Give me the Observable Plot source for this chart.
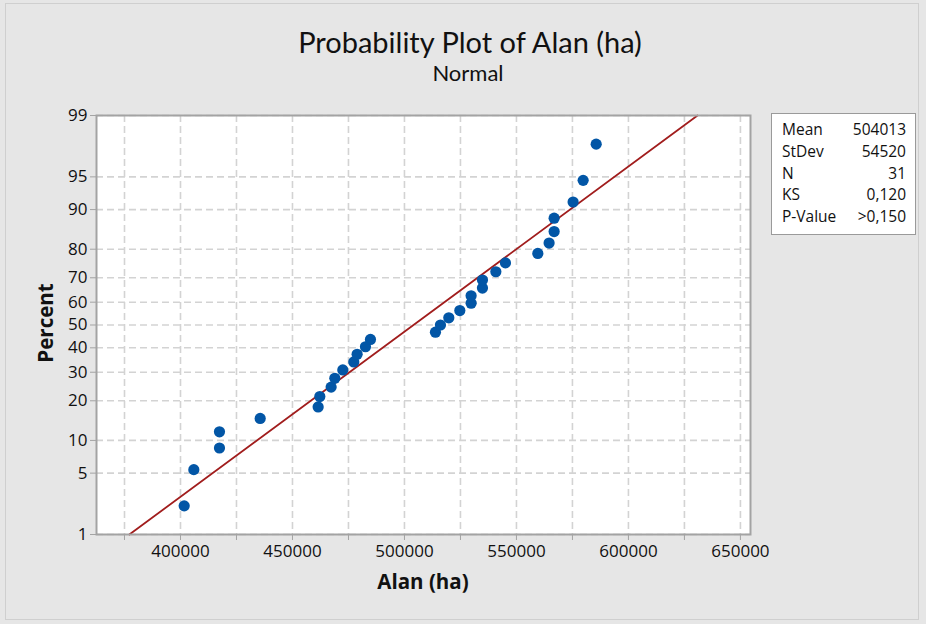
<!DOCTYPE html>
<html>
<head>
<meta charset="utf-8">
<script src="https://cdn.jsdelivr.net/npm/d3@7"></script>
<script src="https://cdn.jsdelivr.net/npm/@observablehq/plot@0.6"></script>
<style>
  html, body { margin: 0; padding: 0; background: #e6e6e6; }
  #wrap { position: relative; width: 926px; height: 624px; background: #e6e6e6; font-family: "Open Sans", Lato, sans-serif; color: #111; overflow: hidden; }
  #outer { position: absolute; left: 5px; top: 3px; width: 914px; height: 617px; border: 1px solid #cfcfcf; box-sizing: border-box; }
  #chart { position: absolute; left: 0; top: 0; }
  .abs { position: absolute; white-space: nowrap; }
  #title { left: 0; width: 940px; top: 24px; text-align: center; font-size: 29px; font-family: Lato, sans-serif; }
  #subtitle { left: 0; width: 936px; top: 59px; text-align: center; font-size: 22px; font-family: Lato, sans-serif; }
  #xlabel { left: 96px; width: 654px; top: 567px; text-align: center; font-size: 20.5px; font-weight: bold; }
  #ylabel { left: 45px; top: 323px; transform: translate(-50%, -50%) rotate(-90deg); font-size: 20.5px; font-weight: bold; }
  #stats { left: 771px; top: 113px; width: 145px; height: 122px; background: #fff; border: 1.5px solid #9a9a9a; box-sizing: border-box; font-size: 15.5px; padding: 5px 9px 0 10px; }
  #stats .row { display: flex; justify-content: space-between; height: 21.8px; line-height: 21.8px; }
</style>
</head>
<body>
<div id="wrap">
  <div id="outer"></div>
  <div id="chart"></div>
  <div class="abs" id="title">Probability Plot of Alan (ha)</div>
  <div class="abs" id="subtitle">Normal</div>
  <div class="abs" id="xlabel">Alan (ha)</div>
  <div class="abs" id="ylabel">Percent</div>
  <div class="abs" id="stats"></div>
</div>
<script>
// ---- data ----
const alan = [401650, 405950, 417400, 417400, 435580, 461460, 462200, 467260, 468900, 472470,
              477380, 478870, 482590, 484820, 513840, 516070, 519800, 524720, 529760, 529760,
              534820, 534820, 540800, 545090, 559540, 564580, 566820, 566820, 575300, 579780, 585600];
const percent = [2.23, 5.41, 8.60, 11.78, 14.97, 18.15, 21.34, 24.52, 27.71, 30.89,
                 34.08, 37.26, 40.45, 43.63, 46.82, 50.00, 53.18, 56.37, 59.55, 62.74,
                 65.92, 69.11, 72.29, 75.48, 78.66, 81.85, 85.03, 88.22, 91.40, 94.59, 97.77];
const fitMean = 504013;
const fitStDev = 54520;
const fitPercent = [1, 99];
const percentTicks = [1, 5, 10, 20, 30, 40, 50, 60, 70, 80, 90, 95, 99];
const xTicks = [375000, 400000, 425000, 450000, 475000, 500000, 525000, 550000, 575000, 600000, 625000, 650000];
const xLabelTicks = [400000, 450000, 500000, 550000, 600000, 650000];
const statLabels = ["Mean", "StDev", "N", "KS", "P-Value"];
const statValues = ["504013", "54520", "31", "0,120", ">0,150"];

// inverse standard normal CDF (Acklam)
function normInv(p) {
  const a = [-3.969683028665376e+01, 2.209460984245205e+02, -2.759285104469687e+02, 1.383577518672690e+02, -3.066479806614716e+01, 2.506628277459239e+00];
  const b = [-5.447609879822406e+01, 1.615858368580409e+02, -1.556989798598866e+02, 6.680131188771972e+01, -1.328068155288572e+01];
  const c = [-7.784894002430293e-03, -3.223964580411365e-01, -2.400758277161838e+00, -2.549732539343734e+00, 4.374664141464968e+00, 2.938163982698783e+00];
  const d = [7.784695709041462e-03, 3.224671290700398e-01, 2.445134137142996e+00, 3.754408661907416e+00];
  const pl = 0.02425, ph = 1 - pl;
  let q, r;
  if (p < pl) { q = Math.sqrt(-2 * Math.log(p)); return (((((c[0]*q+c[1])*q+c[2])*q+c[3])*q+c[4])*q+c[5]) / ((((d[0]*q+d[1])*q+d[2])*q+d[3])*q+1); }
  if (p > ph) { q = Math.sqrt(-2 * Math.log(1 - p)); return -(((((c[0]*q+c[1])*q+c[2])*q+c[3])*q+c[4])*q+c[5]) / ((((d[0]*q+d[1])*q+d[2])*q+d[3])*q+1); }
  q = p - 0.5; r = q * q;
  return (((((a[0]*r+a[1])*r+a[2])*r+a[3])*r+a[4])*r+a[5])*q / (((((b[0]*r+b[1])*r+b[2])*r+b[3])*r+b[4])*r+1);
}
const z = (pct) => normInv(pct / 100);

const points = alan.map((v, i) => ({x: v, z: z(percent[i])}));
const fit = fitPercent.map(p => ({x: fitMean + fitStDev * z(p), z: z(p)}));
const zTicks = percentTicks.map(z);
const zLabel = new Map(percentTicks.map(p => [z(p), String(p)]));

const chart = Plot.plot({
  width: 926,
  height: 624,
  marginLeft: 96,
  marginRight: 176,
  marginTop: 115,
  marginBottom: 90,
  style: { background: "transparent", fontFamily: "'Open Sans', Lato, sans-serif", fontSize: "17px", color: "#111", overflow: "visible" },
  x: { domain: [362500, 654500] },
  y: { domain: [z(1), z(99)] },
  marks: [
    Plot.frame({ fill: "#fff", stroke: null }),
    Plot.gridX(xTicks, { stroke: "#d3d3d3", strokeOpacity: 1, strokeWidth: 1.6, strokeDasharray: "7,4" }),
    Plot.gridY(zTicks, { stroke: "#d3d3d3", strokeOpacity: 1, strokeWidth: 1.6, strokeDasharray: "7,4" }),
    Plot.line(fit, { x: "x", y: "z", stroke: "#a11d1d", strokeWidth: 1.8 }),
    Plot.dot(points, { x: "x", y: "z", r: 5.6, fill: "#0256a6", stroke: null }),
    Plot.frame({ stroke: "#a3a3a3", strokeWidth: 2 }),
    Plot.axisX(xTicks, { tickSize: 6, tickPadding: 4, stroke: "#a3a3a3", fill: "#111", label: null, fontSize: 17,
      tickFormat: d => xLabelTicks.includes(d) ? String(d) : "" }),
    Plot.axisY(zTicks, { tickSize: 6, tickPadding: 3, stroke: "#a3a3a3", fill: "#111", label: null, fontSize: 17,
      tickFormat: d => zLabel.get(d) }),
  ]
});
document.getElementById("chart").appendChild(chart);

const stats = document.getElementById("stats");
statLabels.forEach((l, i) => {
  const row = document.createElement("div");
  row.className = "row";
  row.innerHTML = `<span>${l}</span><span>${statValues[i]}</span>`;
  stats.appendChild(row);
});
</script>
</body>
</html>
